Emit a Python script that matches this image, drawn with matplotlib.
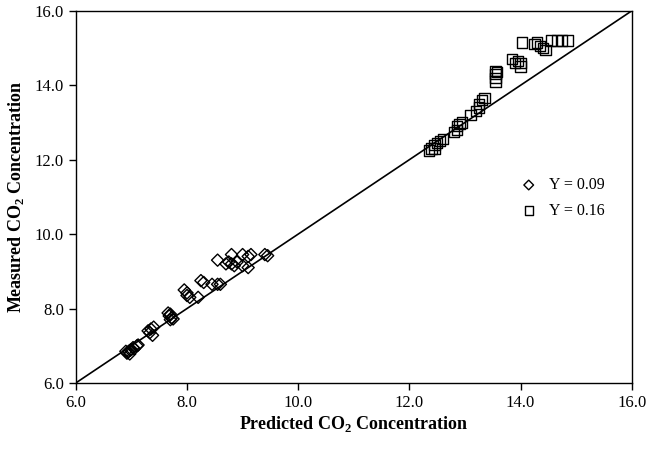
import matplotlib.pyplot as plt
import numpy as np

plt.rcParams['font.family'] = 'Liberation Serif'
plt.rcParams['mathtext.fontset'] = 'custom'
plt.rcParams['mathtext.rm'] = 'Liberation Serif'
plt.rcParams['mathtext.bf'] = 'Liberation Serif:bold'

# Y = 0.09 (diamonds)
pred_09 = [6.92, 6.95, 6.97, 7.0, 7.03, 7.05, 7.1, 7.12, 6.9, 6.98,
           7.3, 7.35, 7.4, 7.38, 7.33,
           7.68, 7.7, 7.72, 7.75, 7.7, 7.66,
           7.95, 8.0, 8.05, 8.0, 8.2, 8.25, 8.3, 8.45, 8.55, 8.6,
           8.55, 8.7, 8.75, 8.8, 8.8, 8.85, 8.9, 9.0, 9.1, 9.0, 9.1, 9.15,
           9.4, 9.45]
meas_09 = [6.80, 6.85, 6.78, 6.9, 6.95, 6.92, 7.0, 7.02, 6.85, 6.88,
           7.4, 7.45, 7.5, 7.28, 7.35,
           7.8, 7.85, 7.75, 7.72, 7.7, 7.88,
           8.5, 8.35, 8.3, 8.42, 8.3, 8.75, 8.7, 8.65, 8.65, 8.65,
           9.3, 9.2, 9.25, 9.45, 9.2, 9.15, 9.25, 9.45, 9.4, 9.15, 9.1, 9.45,
           9.45, 9.42]

# Y = 0.16 (squares)
pred_16 = [12.35, 12.4, 12.45, 12.45, 12.5, 12.55, 12.6,
           12.8, 12.85, 12.85, 12.9, 12.95, 13.1, 13.2, 13.25, 13.25, 13.3, 13.35,
           13.55, 13.55, 13.55, 13.55, 13.57,
           13.85, 13.9, 13.95, 14.0, 14.0,
           14.02, 14.25, 14.3, 14.35, 14.4, 14.45, 14.55, 14.65, 14.75, 14.85]
meas_16 = [12.25, 12.3, 12.3, 12.4, 12.45, 12.5, 12.55,
           12.75, 12.8, 12.9, 12.95, 13.0, 13.2, 13.3, 13.4, 13.5, 13.6, 13.65,
           14.1, 14.2, 14.3, 14.38, 14.35,
           14.7, 14.6, 14.65, 14.5, 14.6,
           15.15, 15.1, 15.15, 15.05, 15.0, 14.95, 15.2, 15.2, 15.2, 15.2]

ticks = [6.0, 8.0, 10.0, 12.0, 14.0, 16.0]

fig = plt.figure(figsize=(6.48, 4.5), dpi=100)
ax = fig.add_axes([0.117, 0.149, 0.858, 0.827])

ax.plot([6, 16], [6, 16], color='black', lw=1.2, zorder=1)
ax.scatter(pred_09, meas_09, marker='D', s=38, facecolors='none',
           edgecolors='black', linewidths=1.0, label='Y = 0.09', zorder=2)
ax.scatter(pred_16, meas_16, marker='s', s=55, facecolors='none',
           edgecolors='black', linewidths=1.0, label='Y = 0.16', zorder=2)

ax.set_xlim(6, 16)
ax.set_ylim(6, 16)
ax.set_xticks(ticks)
ax.set_yticks(ticks)
ax.set_xticklabels([f'{t:.1f}' for t in ticks], fontsize=12)
ax.set_yticklabels([f'{t:.1f}' for t in ticks], fontsize=12)
ax.tick_params(direction='out', length=5, width=1)
for s in ax.spines.values():
    s.set_linewidth(1)

ax.set_xlabel(r'Predicted CO$_\mathbf{2}$ Concentration', fontsize=13, fontweight='bold', labelpad=2)
ax.set_ylabel(r'Measured CO$_\mathbf{2}$ Concentration', fontsize=13, fontweight='bold', labelpad=6)

ax.legend(loc='center left', bbox_to_anchor=(0.76, 0.497), frameon=False,
          fontsize=11.5, handletextpad=0.3, labelspacing=0.6, markerscale=0.8)

fig.savefig('out.png', dpi=100)
